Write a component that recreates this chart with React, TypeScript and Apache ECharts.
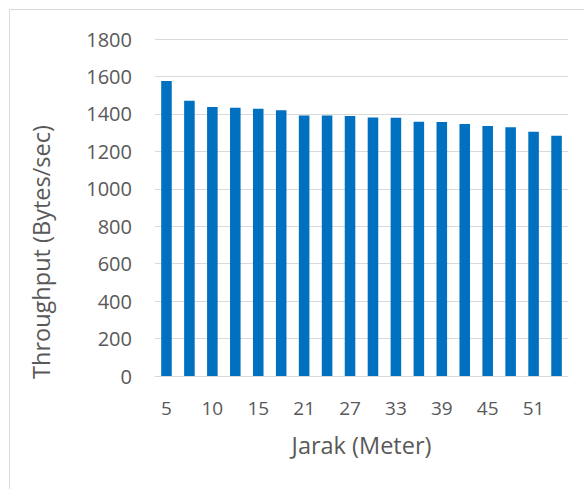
import React, { useEffect, useRef } from "react";
import * as echarts from "echarts";

const categories = ["5", "7", "10", "12", "15", "18", "21", "24", "27", "30", "33", "36", "39", "42", "45", "48", "51", "54"];
const throughput = [1576, 1470, 1437, 1433, 1428, 1419, 1392, 1392, 1389, 1381, 1380, 1358, 1357, 1346, 1335, 1328, 1305, 1283];
const yTicks = { min: 0, max: 1800, interval: 200 };
const xTitle = "Jarak (Meter)";
const yTitle = "Throughput (Bytes/sec)";

const FONT = "'Open Sans', 'Noto Sans', sans-serif";
const TXT = "#595959";

export default function App() {
  const ref = useRef<HTMLDivElement>(null);
  useEffect(() => {
    if (!ref.current) return;
    const chart = echarts.init(ref.current, undefined, { renderer: "svg" });
    chart.setOption({
      animation: false,
      backgroundColor: "#ffffff",
      textStyle: { fontFamily: FONT },
      graphic: [
        {
          type: "rect",
          shape: { x: 9.5, y: 9.5, width: 600, height: 500 },
          style: { fill: "none", stroke: "#d9d9d9", lineWidth: 1 },
          silent: true,
        },
        {
          type: "text",
          x: 41,
          y: 252,
          rotation: Math.PI / 2,
          style: {
            text: yTitle,
            fill: TXT,
            font: `23.5px ${FONT}`,
            align: "center",
            verticalAlign: "middle",
          },
          silent: true,
        },
      ],
      grid: { left: 155, right: 16, top: 39, bottom: 113, containLabel: false },
      xAxis: {
        type: "category",
        data: categories,
        axisLine: { lineStyle: { color: "#d9d9d9", width: 1 } },
        axisTick: { show: false },
        axisLabel: { interval: 1, color: TXT, fontSize: 19, margin: 22, fontFamily: FONT },
        name: xTitle,
        nameLocation: "middle",
        nameGap: 57,
        nameTextStyle: { color: TXT, fontSize: 23.5, fontFamily: FONT },
      },
      yAxis: {
        type: "value",
        min: yTicks.min,
        max: yTicks.max,
        interval: yTicks.interval,
        axisLine: { show: false },
        axisTick: { show: false },
        splitLine: { lineStyle: { color: "#d9d9d9", width: 1 } },
        axisLabel: { color: TXT, fontSize: 20, margin: 23, fontFamily: FONT, formatter: (v: number) => String(v) },
      },
      series: [
        {
          type: "bar",
          data: throughput,
          barWidth: "46%",
          itemStyle: { color: "#0070c0" },
        },
      ],
    });
    return () => chart.dispose();
  }, []);
  return (
    <div
      ref={ref}
      style={{ position: "fixed", left: 0, top: 0, width: 584, height: 489 }}
    />
  );
}
